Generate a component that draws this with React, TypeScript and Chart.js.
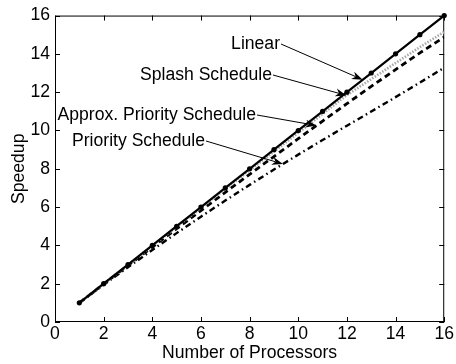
import React, { useEffect, useRef } from "react";
import { Chart, registerables } from "chart.js";

Chart.register(...registerables);

// Speedup measured against processor count for each scheduling strategy
const processors = [1, 2, 3, 4, 5, 6, 7, 8, 9, 10, 11, 12, 13, 14, 15, 16];
const linearSpeedup = [1, 2, 3, 4, 5, 6, 7, 8, 9, 10, 11, 12, 13, 14, 15, 16];
const splashSpeedup = [1, 2, 2.99, 3.98, 4.97, 5.96, 6.94, 7.92, 8.9, 9.88, 10.86, 11.85, 12.68, 13.52, 14.35, 15.15];
const approxPrioritySpeedup = [1, 1.98, 2.95, 3.91, 4.87, 5.82, 6.77, 7.71, 8.64, 9.57, 10.49, 11.4, 12.3, 13.18, 14.05, 14.88];
const prioritySpeedup = [1, 1.94, 2.86, 3.76, 4.64, 5.5, 6.34, 7.16, 7.96, 8.74, 9.5, 10.25, 10.99, 11.74, 12.5, 13.28];

const xTickValues = [0, 2, 4, 6, 8, 10, 12, 14, 16];
const yTickValues = [0, 2, 4, 6, 8, 10, 12, 14, 16];

// Callout labels, the series each one points at, and where along x the arrow lands
const calloutLabels = ["Linear", "Splash Schedule", "Approx. Priority Schedule", "Priority Schedule"];
const calloutSeries = [linearSpeedup, splashSpeedup, approxPrioritySpeedup, prioritySpeedup];
const calloutTipX = [12.65, 11.98, 10.75, 9.37];

const FONT = "'Liberation Sans', Arial, Helvetica, sans-serif";
const FONT_SIZE = 17.6;

function interp(series: number[], x: number): number {
  const i = Math.min(Math.max(Math.floor(x) - 1, 0), processors.length - 2);
  const x0 = processors[i];
  const x1 = processors[i + 1];
  const t = (x - x0) / (x1 - x0);
  return series[i] + t * (series[i + 1] - series[i]);
}

const framePlugin = {
  id: "frameAndCallouts",
  beforeDatasetsDraw(chart: any) {
    const { ctx, chartArea, scales } = chart;
    const { left, right, top, bottom } = chartArea;
    ctx.save();
    ctx.strokeStyle = "#000";
    ctx.lineWidth = 1;
    ctx.strokeRect(left + 0.5, top + 0.5, right - left - 1, bottom - top - 1);
    const tl = 5;
    ctx.beginPath();
    for (const v of xTickValues) {
      const x = Math.round(scales.x.getPixelForValue(v)) + 0.5;
      ctx.moveTo(x, bottom);
      ctx.lineTo(x, bottom - tl);
      ctx.moveTo(x, top);
      ctx.lineTo(x, top + tl);
    }
    for (const v of yTickValues) {
      const y = Math.round(scales.y.getPixelForValue(v)) + 0.5;
      ctx.moveTo(left, y);
      ctx.lineTo(left + tl, y);
      ctx.moveTo(right, y);
      ctx.lineTo(right - tl, y);
    }
    ctx.stroke();

    // axis titles
    ctx.fillStyle = "#000";
    ctx.font = `${FONT_SIZE}px ${FONT}`;
    ctx.textAlign = "center";
    ctx.textBaseline = "alphabetic";
    ctx.fillText("Number of Processors", (left + right) / 2, 358);
    ctx.save();
    ctx.translate(24, (top + bottom) / 2);
    ctx.rotate(-Math.PI / 2);
    ctx.fillText("Speedup", 0, 0);
    ctx.restore();
    ctx.restore();
  },
  afterDatasetsDraw(chart: any) {
    const { ctx, scales } = chart;
    const textRight = [280, 272, 256, 205];
    const textMidY = [44, 75, 115, 141];
    ctx.save();
    ctx.font = `${FONT_SIZE}px ${FONT}`;
    ctx.fillStyle = "#000";
    ctx.strokeStyle = "#000";
    ctx.textAlign = "right";
    ctx.textBaseline = "middle";
    calloutLabels.forEach((label, i) => {
      const tx = textRight[i];
      const ty = textMidY[i];
      ctx.fillText(label, tx, ty);
      const px = scales.x.getPixelForValue(calloutTipX[i]);
      const py = scales.y.getPixelForValue(interp(calloutSeries[i], calloutTipX[i]));
      const sx = tx + 1;
      const sy = ty;
      const ang = Math.atan2(py - sy, px - sx);
      const headLen = 11;
      const headW = 4;
      ctx.lineWidth = 1;
      ctx.beginPath();
      ctx.moveTo(sx, sy);
      ctx.lineTo(px - Math.cos(ang) * headLen * 0.7, py - Math.sin(ang) * headLen * 0.7);
      ctx.stroke();
      ctx.save();
      ctx.translate(px, py);
      ctx.rotate(ang);
      ctx.beginPath();
      ctx.moveTo(0, 0);
      ctx.lineTo(-headLen, -headW);
      ctx.lineTo(-headLen * 0.7, 0);
      ctx.lineTo(-headLen, headW);
      ctx.closePath();
      ctx.fill();
      ctx.restore();
    });
    ctx.restore();
  },
};

export default function App() {
  const canvasRef = useRef<HTMLCanvasElement | null>(null);

  useEffect(() => {
    const canvas = canvasRef.current;
    if (!canvas) return;
    const toPoints = (ys: number[]) => processors.map((x, i) => ({ x, y: ys[i] }));
    const chart = new Chart(canvas, {
      type: "line",
      data: {
        datasets: [
          {
            label: "Linear",
            data: toPoints(linearSpeedup),
            borderColor: "#000",
            backgroundColor: "#000",
            borderWidth: 2.2,
            pointRadius: 2.6,
            pointBorderWidth: 0,
            pointBackgroundColor: "#000",
            clip: false as any,
            order: 0,
          },
          {
            label: "Splash Schedule",
            data: toPoints(splashSpeedup),
            borderColor: "#a8a8a8",
            borderWidth: 2.6,
            borderDash: [1.5, 1.5],
            pointRadius: 0,
            order: 1,
          },
          {
            label: "Approx. Priority Schedule",
            data: toPoints(approxPrioritySpeedup),
            borderColor: "#000",
            borderWidth: 2.8,
            borderDash: [6, 4],
            pointRadius: 0,
            order: 2,
          },
          {
            label: "Priority Schedule",
            data: toPoints(prioritySpeedup),
            borderColor: "#000",
            borderWidth: 2.4,
            borderDash: [6, 3.5, 1.5, 3.5],
            pointRadius: 0,
            order: 3,
          },
        ],
      },
      options: {
        responsive: false,
        animation: false,
        events: [],
        layout: { padding: { left: 0, right: 11, top: 12, bottom: 0 } },
        plugins: { legend: { display: false }, tooltip: { enabled: false } },
        scales: {
          x: {
            type: "linear",
            min: 0,
            max: 16,
            grid: { display: false, drawTicks: false },
            border: { display: false },
            afterBuildTicks: (s: any) => {
              s.ticks = xTickValues.map((v) => ({ value: v }));
            },
            afterFit: (s: any) => {
              s.height = 42;
            },
            ticks: { color: "#000", font: { family: FONT, size: FONT_SIZE }, padding: 2, maxRotation: 0 },
          },
          y: {
            type: "linear",
            min: 0,
            max: 16,
            grid: { display: false, drawTicks: false },
            border: { display: false },
            afterBuildTicks: (s: any) => {
              s.ticks = yTickValues.map((v) => ({ value: v }));
            },
            afterFit: (s: any) => {
              s.width = 55;
            },
            ticks: { color: "#000", font: { family: FONT, size: FONT_SIZE }, padding: 5 },
          },
        },
      },
      plugins: [framePlugin],
    });
    return () => chart.destroy();
  }, []);

  return (
    <div style={{ position: "fixed", left: 0, top: 0, width: 456, height: 364, background: "#fff" }}>
      <canvas ref={canvasRef} width={456} height={364} />
    </div>
  );
}
